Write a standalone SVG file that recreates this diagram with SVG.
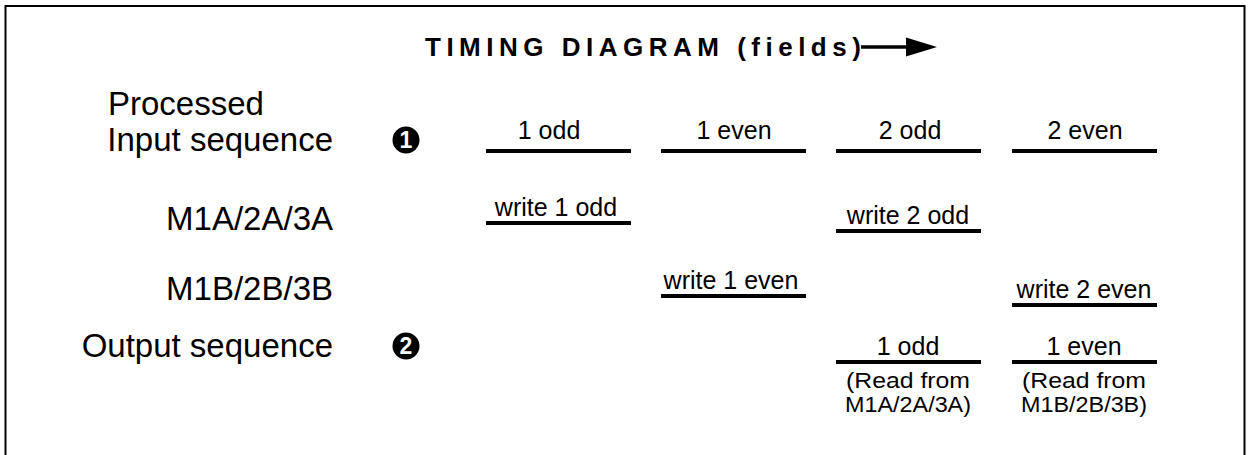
<svg xmlns="http://www.w3.org/2000/svg" width="1250" height="455" viewBox="0 0 1250 455">
<defs>
<style>
.lbl{font-family:"Liberation Sans",Arial,sans-serif;font-size:33px;fill:#000}
.r{text-anchor:end}
.bl{font-family:"Liberation Sans",Arial,sans-serif;font-size:25px;fill:#000;text-anchor:middle}
.sm{font-family:"Liberation Sans",Arial,sans-serif;font-size:22px;fill:#000;text-anchor:middle}
.bar{stroke:#000;stroke-width:4;fill:none}
.title{font-family:"Liberation Sans",Arial,sans-serif;font-size:26px;font-weight:bold;letter-spacing:5.5px;fill:#000}
.num{font-family:"Liberation Sans",Arial,sans-serif;font-size:23px;font-weight:bold;fill:#fff;text-anchor:middle}
</style>
</defs>
<rect width="1250" height="455" fill="#fff"/>
<path d="M5.5,460 V6 H1244.5 V460" fill="none" stroke="#000" stroke-width="2"/>
<g id="title">
<text class="title" x="425" y="56">TIMING DIAGRAM (fields)</text>
</g>
<g id="connectors">
<line x1="861" y1="47" x2="910" y2="47" stroke="#000" stroke-width="3.5"/>
<path d="M906,37.5 L937,47 L906,56.5 Z" fill="#000"/>
</g>
<g id="row-labels">
<text class="lbl" x="108" y="115">Processed</text>
<text class="lbl r" x="333" y="151">Input sequence</text>
<text class="lbl r" x="333" y="230">M1A/2A/3A</text>
<text class="lbl r" x="333" y="300">M1B/2B/3B</text>
<text class="lbl r" x="333" y="357">Output sequence</text>
</g>
<g id="marker1">
<circle cx="406" cy="140" r="13.5" fill="#000"/>
<text class="num" x="406" y="148">1</text>
</g>
<g id="marker2">
<circle cx="406" cy="346" r="13.5" fill="#000"/>
<text class="num" x="406" y="354">2</text>
</g>
<g id="input-seq">
<line class="bar" x1="486" y1="151" x2="631" y2="151"/><text class="bl" x="549" y="139">1 odd</text>
<line class="bar" x1="661" y1="151" x2="806" y2="151"/><text class="bl" x="734" y="139">1 even</text>
<line class="bar" x1="836" y1="151" x2="981" y2="151"/><text class="bl" x="910" y="139">2 odd</text>
<line class="bar" x1="1012" y1="151" x2="1157" y2="151"/><text class="bl" x="1085" y="139">2 even</text>
</g>
<g id="m1a">
<line class="bar" x1="486" y1="223" x2="631" y2="223"/><text class="bl" x="556" y="216">write 1 odd</text>
<line class="bar" x1="836" y1="231" x2="981" y2="231"/><text class="bl" x="908" y="224">write 2 odd</text>
</g>
<g id="m1b">
<line class="bar" x1="661" y1="296" x2="806" y2="296"/><text class="bl" x="731" y="289">write 1 even</text>
<line class="bar" x1="1012" y1="305" x2="1157" y2="305"/><text class="bl" x="1084" y="298">write 2 even</text>
</g>
<g id="output-seq">
<line class="bar" x1="836" y1="362" x2="981" y2="362"/><text class="bl" x="908" y="355">1 odd</text>
<text class="sm" x="908" y="388" textLength="124" lengthAdjust="spacingAndGlyphs">(Read from</text>
<text class="sm" x="908" y="412" textLength="126" lengthAdjust="spacingAndGlyphs">M1A/2A/3A)</text>
<line class="bar" x1="1012" y1="362" x2="1157" y2="362"/><text class="bl" x="1084" y="355">1 even</text>
<text class="sm" x="1084" y="388" textLength="124" lengthAdjust="spacingAndGlyphs">(Read from</text>
<text class="sm" x="1084" y="412" textLength="126" lengthAdjust="spacingAndGlyphs">M1B/2B/3B)</text>
</g>
</svg>
